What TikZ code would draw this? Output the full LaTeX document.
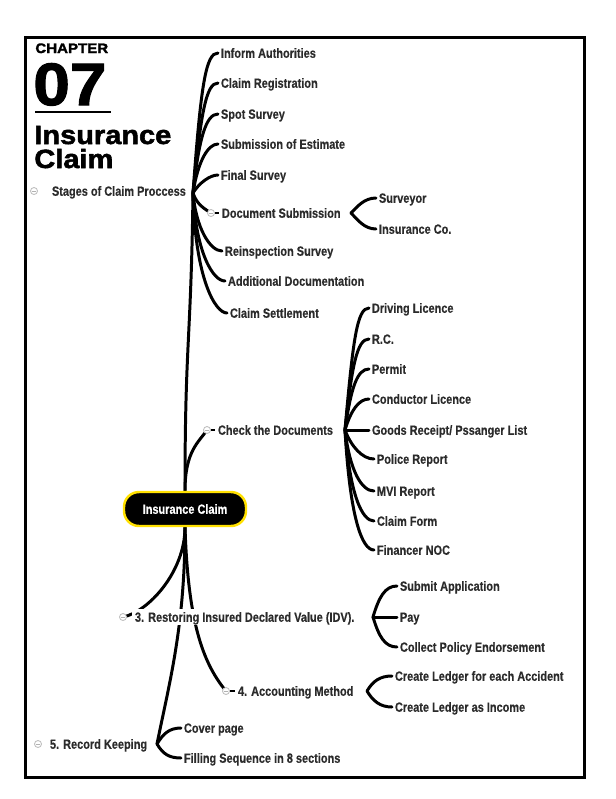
\documentclass[tikz,border=0pt]{standalone}
\usepackage{fontspec}
\setmainfont{Liberation Sans}
\newfontfamily\mapfont[FakeStretch=0.82,FakeBold=0.4]{Liberation Sans}
\newfontfamily\headfont[FakeStretch=1.1,FakeBold=2]{Liberation Sans}
\usetikzlibrary{backgrounds}
\definecolor{labelgray}{HTML}{2B2B2B}
\definecolor{rimyellow}{HTML}{FFE000}
\newcommand{\lblfont}{\mapfont\bfseries\fontsize{7.6}{8}\selectfont}

\begin{document}
\begin{tikzpicture}[x=0.02cm,y=-0.02cm,
    leaf/.style={anchor=west, inner xsep=1.5pt, inner ysep=0pt, text height=5.4pt, text depth=0pt, font=\lblfont, text=labelgray},
    toggle/.style={circle, draw=gray!50, fill=white, line width=0.5pt, minimum size=0.14cm, inner sep=0pt,
        path picture={\draw[gray!60, line width=0.5pt] (path picture bounding box.center) ++(-2,0) -- ++(4,0);}},
    branch/.style={line width=1.7pt, line cap=round},
    rootbox/.style={fill=black, draw=rimyellow, line width=1.4pt, rounded corners=0.3cm, minimum width=2.44cm, minimum height=0.68cm, text=white, font=\lblfont}]
    \useasboundingbox (0,0) rectangle (616,799);
    \draw[line width=1.7pt] (25.5,37) rectangle (584.5,777.5);
    % title block
    \node[anchor=base west, inner sep=0pt, font=\headfont\bfseries\fontsize{7.8}{8}\selectfont] (chapter) at (35,53) {CHAPTER};
    \node[anchor=base west, inner sep=0pt, font=\headfont\bfseries\fontsize{34}{34}\selectfont] (number) at (33,105) {07};
    \draw[line width=1.2pt] (35,112) -- (111,112);
    \node[anchor=base west, inner sep=0pt, font=\headfont\bfseries\fontsize{15}{15}\selectfont] (titleone) at (34,144) {Insurance};
    \node[anchor=base west, inner sep=0pt, font=\headfont\bfseries\fontsize{15}{15}\selectfont] (titletwo) at (34,168) {Claim};
    % root
    \node[rootbox] (root) at (185,509) {Insurance Claim};
    % stages of claim
    \node[toggle] (stagesicon) at (34,191) {};
    \node[leaf] (stages) at (49,191) {Stages of Claim Proccess};
    \coordinate (stagehub) at (193,193);
    \node[leaf] (inform) at (218,53) {Inform Authorities};
    \node[leaf] (registration) at (218,83) {Claim Registration};
    \node[leaf] (spot) at (218,114) {Spot Survey};
    \node[leaf] (estimate) at (218,144) {Submission of Estimate};
    \node[leaf] (finalsurvey) at (218,175) {Final Survey};
    \node[toggle] (docsubicon) at (211,213) {};
    \node[leaf] (docsub) at (219,213) {Document Submission};
    \coordinate (dochub) at (351,213);
    \node[leaf] (surveyor) at (376,198) {Surveyor};
    \node[leaf] (insco) at (376,229) {Insurance Co.};
    \node[leaf] (reinspect) at (222,251) {Reinspection Survey};
    \node[leaf] (additional) at (225,281) {Additional Documentation};
    \node[leaf] (settlement) at (227,313) {Claim Settlement};
    % documents
    \node[toggle] (checkicon) at (207,430) {};
    \node[leaf] (check) at (215,430) {Check the Documents};
    \coordinate (checkhub) at (345,430);
    \node[leaf] (driving) at (369,308) {Driving Licence};
    \node[leaf] (rc) at (369,339) {R.C.};
    \node[leaf] (permit) at (369,369) {Permit};
    \node[leaf] (conductor) at (369,399) {Conductor Licence};
    \node[leaf] (goods) at (369,430) {Goods Receipt/ Pssanger List};
    \node[leaf] (police) at (374,459) {Police Report};
    \node[leaf] (mvi) at (374,491) {MVI Report};
    \node[leaf] (claimform) at (374,521) {Claim Form};
    \node[leaf] (financer) at (374,550) {Financer NOC};
    % idv
    \node[toggle] (idvicon) at (123,617) {};
    \node[leaf, fill=white, inner ysep=2pt] (idv) at (132,617) {3. Restoring Insured Declared Value (IDV).};
    \coordinate (idvhub) at (373,617);
    \node[leaf] (submit) at (397,586) {Submit Application};
    \node[leaf] (pay) at (397,617) {Pay};
    \node[leaf] (collect) at (397,647) {Collect Policy Endorsement};
    % accounting
    \node[toggle] (accicon) at (226,691) {};
    \node[leaf] (acc) at (235,691) {4. Accounting Method};
    \coordinate (acchub) at (367,691);
    \node[leaf] (ledgerone) at (392,676) {Create Ledger for each Accident};
    \node[leaf] (ledgertwo) at (392,707) {Create Ledger as Income};
    % record keeping
    \node[toggle] (recordicon) at (38,744) {};
    \node[leaf] (record) at (47,744) {5. Record Keeping};
    \coordinate (recordhub) at (157,744);
    \node[leaf] (cover) at (181,728) {Cover page};
    \node[leaf] (filling) at (181,758) {Filling Sequence in 8 sections};
    \begin{scope}[on background layer]
    % main branches
    \draw[branch] (root.north) .. controls +(0,-150) and +(-2,150) .. (stagehub);
    \draw[branch] (root.north) .. controls +(0,-40) and +(-8,12) .. (checkicon.center);
    \draw[branch] (root.south) .. controls +(0,45) and +(25,-5) .. (idvicon.center);
    \draw[branch] (root.south) .. controls +(3,90) and +(-25,-30) .. (accicon.center);
    \draw[branch] (root.south) .. controls +(0,100) and +(12,-60) .. (recordhub);
    % stages
    \draw[branch] (stagehub) .. controls +(8,-110) and +(-12,0) .. (inform.west);
    \draw[branch] (stagehub) .. controls +(8,-80) and +(-12,0) .. (registration.west);
    \draw[branch] (stagehub) .. controls +(6,-55) and +(-12,0) .. (spot.west);
    \draw[branch] (stagehub) .. controls +(5,-32) and +(-10,0) .. (estimate.west);
    \draw[branch] (stagehub) .. controls +(6,-10) and +(-8,0) .. (finalsurvey.west);
    \draw[branch] (stagehub) .. controls +(4,12) and +(-6,-4) .. (docsubicon.center);
    \draw[branch] (stagehub) .. controls +(3,35) and +(-12,0) .. (reinspect.west);
    \draw[branch] (stagehub) .. controls +(3,60) and +(-12,0) .. (additional.west);
    \draw[branch] (stagehub) .. controls +(2,85) and +(-12,0) .. (settlement.west);
    \draw[branch] (dochub) .. controls +(6,-6) and +(-12,0) .. (surveyor.west);
    \draw[branch] (dochub) .. controls +(6,6) and +(-12,0) .. (insco.west);
    % documents
    \draw[branch] (checkhub) .. controls +(8,-90) and +(-12,0) .. (driving.west);
    \draw[branch] (checkhub) .. controls +(7,-65) and +(-12,0) .. (rc.west);
    \draw[branch] (checkhub) .. controls +(6,-42) and +(-12,0) .. (permit.west);
    \draw[branch] (checkhub) .. controls +(6,-20) and +(-10,0) .. (conductor.west);
    \draw[branch] (checkhub) -- (goods.west);
    \draw[branch] (checkhub) .. controls +(6,16) and +(-12,0) .. (police.west);
    \draw[branch] (checkhub) .. controls +(5,42) and +(-12,0) .. (mvi.west);
    \draw[branch] (checkhub) .. controls +(5,65) and +(-12,0) .. (claimform.west);
    \draw[branch] (checkhub) .. controls +(5,88) and +(-12,0) .. (financer.west);
    % idv, accounting, record
    \draw[branch] (idvhub) .. controls +(6,-20) and +(-12,0) .. (submit.west);
    \draw[branch] (idvhub) -- (pay.west);
    \draw[branch] (idvhub) .. controls +(6,20) and +(-12,0) .. (collect.west);
    \draw[branch] (acchub) .. controls +(6,-10) and +(-12,0) .. (ledgerone.west);
    \draw[branch] (acchub) .. controls +(6,10) and +(-12,0) .. (ledgertwo.west);
    \draw[branch] (recordhub) .. controls +(6,-10) and +(-12,0) .. (cover.west);
    \draw[branch] (recordhub) .. controls +(6,10) and +(-12,0) .. (filling.west);
    % stubs
    \draw[line width=1pt] (docsubicon.east) -- (docsub.west);
    \draw[line width=1pt] (checkicon.east) -- (check.west);
    \draw[line width=1pt] (accicon.east) -- (acc.west);
    \end{scope}
\end{tikzpicture}
\end{document}
